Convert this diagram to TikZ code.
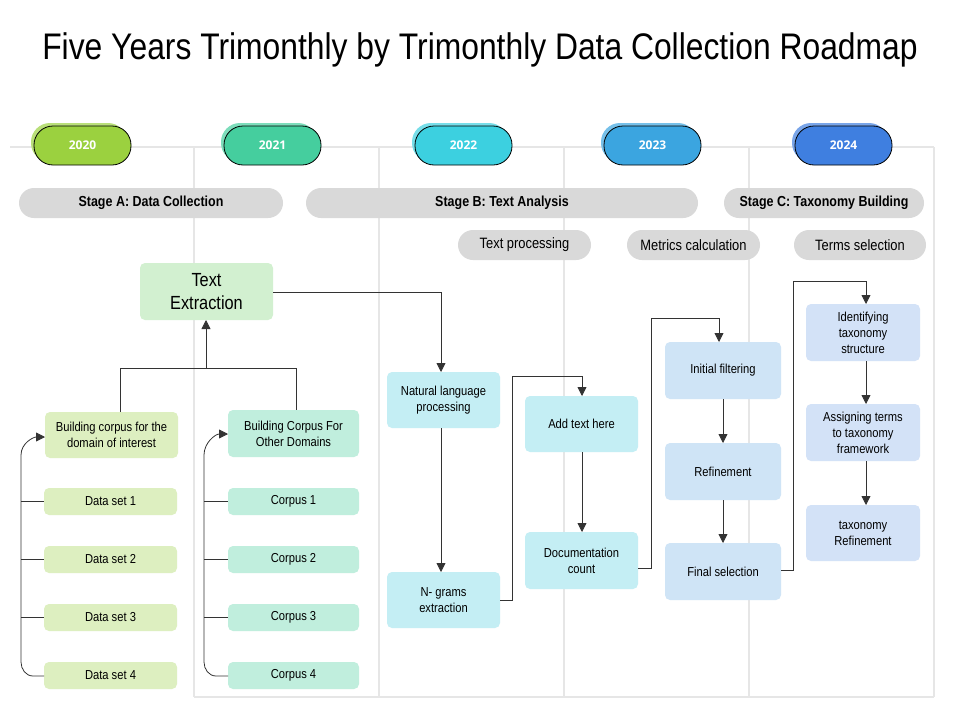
\documentclass[tikz,border=0pt]{standalone}
\usepackage{fontspec}
\setmainfont[FakeStretch=0.86]{Liberation Sans}
\newfontfamily\yearfont{Open Sans}
\usetikzlibrary{arrows.meta}
\definecolor{cA}{HTML}{9BD13F}\definecolor{cB}{HTML}{45CE9E}\definecolor{cC}{HTML}{3CD0E0}
\definecolor{cD}{HTML}{3BA5E0}\definecolor{cE}{HTML}{3F7FE0}
\definecolor{grid}{HTML}{E6E6E6}\definecolor{stg}{HTML}{D9D9D9}
\definecolor{lg}{HTML}{DDEFC0}\definecolor{mint}{HTML}{C0EEDD}\definecolor{te}{HTML}{D2F0D0}
\definecolor{cy}{HTML}{C4EEF4}\definecolor{lb}{HTML}{CFE4F6}\definecolor{lb2}{HTML}{D3E2F7}
\definecolor{ln}{HTML}{333333}
\tikzset{
 box/.style={rounded corners=5pt,inner sep=0pt,align=center,font=\fontsize{13}{16}\selectfont},
 stagebar/.style={fill=stg,rounded corners=15pt,font=\bfseries\fontsize{14.5}{16}\selectfont},
 subpill/.style={fill=stg,rounded corners=15pt,font=\fontsize{15}{16}\selectfont},
 conn/.style={draw=ln,line width=0.8pt},
 arr/.style={conn,-{Triangle[length=9pt,width=9pt]}},
}
\begin{document}
\begin{tikzpicture}[x=1pt,y=-1pt]
\useasboundingbox (0,0) rectangle (960,720);
\fill[white] (0,0) rectangle (960,720);
\node[font=\fontsize{37}{40}\selectfont] (title) at (480,50) {Five Years Trimonthly by Trimonthly Data Collection Roadmap};
% grid
\draw[grid,line width=1.2pt] (10,147) -- (934,147);
\foreach \x in {194,379,564,749,934} \draw[grid,line width=1.2pt] (\x,147) -- (\x,697);
\draw[grid,line width=1.2pt] (194,697) -- (934,697);
% year pills
\foreach \x/\c/\y in {81/cA/2020,271/cB/2021,462/cC/2022,651/cD/2023,842/cE/2024}{
 \fill[\c!70,rounded corners=19pt] (\x-50,123) rectangle (\x+46,162);
 \draw[fill=\c,draw=black,line width=0.8pt,rounded corners=19pt] (\x-47,126) rectangle (\x+50,165);
 \node[text=white,font=\yearfont\bfseries\fontsize{12}{13}\selectfont] (y\y) at (\x+1.5,145.5) {\y};
}
% stages
\path[stagebar] (19,188) rectangle (283,218) node[midway] (sA) {Stage A: Data Collection};
\path[stagebar] (306,188) rectangle (698,218) node[midway] (sB) {Stage B: Text Analysis};
\path[stagebar] (724,188) rectangle (924,218) node[midway] (sC) {Stage C: Taxonomy Building};
\path[subpill] (458,230) rectangle (591,260) node[midway] (p1) {Text processing};
\path[subpill] (627,230) rectangle (760,260) node[midway] (p2) {Metrics calculation};
\path[subpill] (794,230) rectangle (926,260) node[midway] (p3) {Terms selection};
% boxes
\path[box,fill=te] (140,263) rectangle (273,320) node[midway,font=\fontsize{19}{23}\selectfont] (te) {Text\\Extraction};
\path[box,fill=lg] (45,412) rectangle (178,458) node[midway] (bd) {Building corpus for the\\domain of interest};
\path[box,fill=mint] (228,410) rectangle (359,457) node[midway] (bo) {Building Corpus For\\Other Domains};
\foreach \i/\a/\b in {1/488/515,2/546/573,3/604/631,4/662/689}{
 \path[box,fill=lg] (44,\a) rectangle (177,\b) node[midway] (d\i) {Data set \i};
 \path[box,fill=mint] (228,\a) rectangle (359,\b) node[midway] (c\i) {Corpus \i};
}
\path[box,fill=cy] (387,372) rectangle (500,428) node[midway] (nlp) {Natural language\\processing};
\path[box,fill=cy] (387,572) rectangle (500,628) node[midway] (ng) {N- grams\\extraction};
\path[box,fill=cy] (525,396) rectangle (638,452) node[midway] (add) {Add text here};
\path[box,fill=cy] (525,532) rectangle (638,589) node[midway] (doc) {Documentation\\count};
\path[box,fill=lb] (665,342) rectangle (781,399) node[midway] (if) {Initial filtering};
\path[box,fill=lb] (665,443) rectangle (781,500) node[midway] (rf) {Refinement};
\path[box,fill=lb] (665,543) rectangle (781,600) node[midway] (fs) {Final selection};
\path[box,fill=lb2] (806,304) rectangle (920,361) node[midway] (it) {Identifying\\taxonomy\\structure};
\path[box,fill=lb2] (806,404) rectangle (920,461) node[midway] (at) {Assigning terms\\to taxonomy\\framework};
\path[box,fill=lb2] (806,505) rectangle (920,561) node[midway] (tr) {taxonomy\\Refinement};
% connectors
\coordinate (j) at (206,368);
\draw[conn] (120,412) |- (296,368) -- (296,410);
\draw[arr] (j) -- (206,320);
\draw[arr] (44,676) -- (33,676) to[out=180,in=-90] (21,662) -- (21,455) to[out=90,in=180] (45,437);
\draw[arr] (228,676) -- (216,676) to[out=180,in=-90] (204,662) -- (204,455) to[out=90,in=180] (228,434);
\foreach \yy in {501.5,559.5,617.5}{
 \draw[conn] (21,\yy) -- (44,\yy);
 \draw[conn] (204,\yy) -- (228,\yy);
}
\draw[arr] (273,292) -| (441,372);
\draw[arr] (441,428) -- (441,572);
\draw[arr] (500,600) -- (512,600) |- (582,376) -- (582,396);
\draw[arr] (582,452) -- (582,532);
\draw[arr] (638,568) -- (651,568) |- (719,318) -- (719,342);
\draw[arr] (723,399) -- (723,443);
\draw[arr] (723,500) -- (723,543);
\draw[arr] (781,570) -- (793,570) |- (866,281) -- (866,304);
\draw[arr] (866,361) -- (866,404);
\draw[arr] (866,461) -- (866,505);
\end{tikzpicture}
\end{document}
